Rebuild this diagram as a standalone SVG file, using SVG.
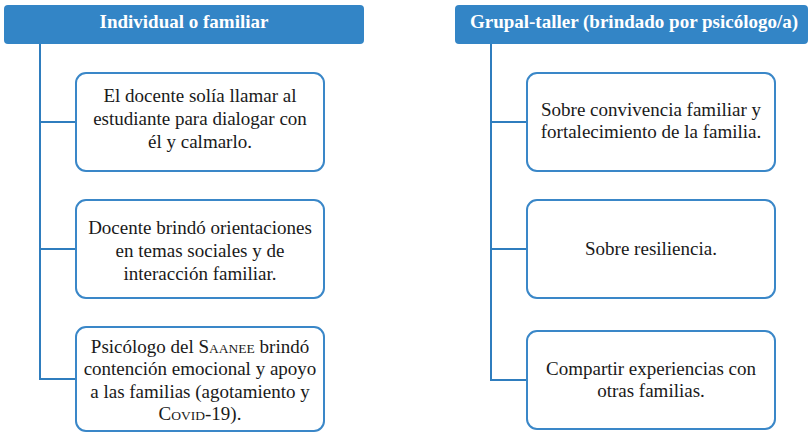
<svg xmlns="http://www.w3.org/2000/svg" width="809" height="433" viewBox="0 0 809 433">
<style>
.hdr{fill:#3385C6;}
.hdrt{font-family:'Liberation Serif','Times New Roman',serif;font-weight:bold;font-size:19px;fill:#FFFFFF;text-anchor:middle;}
.box{fill:#FFFFFF;stroke:#3A87C8;stroke-width:2;}
.t{font-family:'Liberation Serif','Times New Roman',serif;font-size:19px;fill:#1a1a1a;text-anchor:middle;}
.sc{font-size:13.5px;}
.conn{fill:none;stroke:#2F7DBE;stroke-width:2;}
</style>
<rect width="809" height="433" fill="#FFFFFF"/>
<g id="connectors">
<path class="conn" d="M40,44 V379 H76 M40,122 H76 M40,249 H76"/>
<path class="conn" d="M491,44 V380 H527 M491,122 H527 M491,249 H527"/>
</g>
<g id="header-left">
<rect class="hdr" x="4" y="5" width="360" height="39" rx="4"/>
<text class="hdrt" x="184" y="28">Individual o familiar</text>
</g>
<g id="header-right">
<rect class="hdr" x="455" y="5" width="353" height="39" rx="4"/>
<text class="hdrt" x="634" y="28">Grupal-taller (brindado por psicólogo/a)</text>
</g>
<g id="left-1">
<rect class="box" x="76" y="73" width="248" height="98" rx="10"/>
<text class="t" x="200" y="102">El docente solía llamar al</text>
<text class="t" x="200" y="125">estudiante para dialogar con</text>
<text class="t" x="200" y="148">él y calmarlo.</text>
</g>
<g id="left-2">
<rect class="box" x="76" y="200" width="248" height="98" rx="10"/>
<text class="t" x="200" y="234">Docente brindó orientaciones</text>
<text class="t" x="200" y="257">en temas sociales y de</text>
<text class="t" x="200" y="280">interacción familiar.</text>
</g>
<g id="left-3">
<rect class="box" x="76" y="327" width="248" height="104" rx="10"/>
<text class="t" x="200" y="353">Psicólogo del S<tspan class="sc">AANEE</tspan> brindó</text>
<text class="t" x="200" y="375">contención emocional y apoyo</text>
<text class="t" x="200" y="398">a las familias (agotamiento y</text>
<text class="t" x="200" y="420">C<tspan class="sc">OVID</tspan>-19).</text>
</g>
<g id="right-1">
<rect class="box" x="527" y="73" width="248" height="98" rx="10"/>
<text class="t" x="651" y="116">Sobre convivencia familiar y</text>
<text class="t" x="651" y="138">fortalecimiento de la familia.</text>
</g>
<g id="right-2">
<rect class="box" x="527" y="200" width="248" height="98" rx="10"/>
<text class="t" x="651" y="255">Sobre resiliencia.</text>
</g>
<g id="right-3">
<rect class="box" x="527" y="331" width="248" height="98" rx="10"/>
<text class="t" x="651" y="375">Compartir experiencias con</text>
<text class="t" x="651" y="397">otras familias.</text>
</g>
</svg>
